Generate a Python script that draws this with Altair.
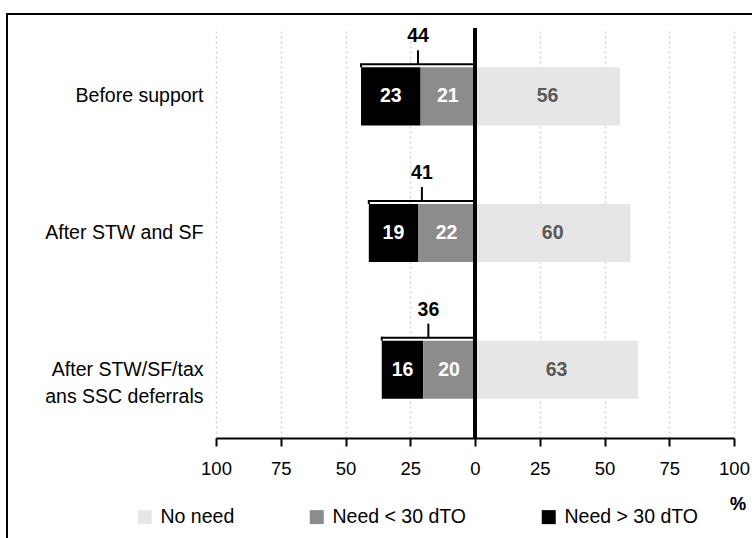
import altair as alt
import pandas as pd

# Share of firms by liquidity need, before and after support measures (%)
categories = [
    "Before support",
    "After STW and SF",
    "After STW/SF/tax\nans SSC deferrals",
]
need_over_30 = [23, 19, 16]   # Need > 30 dTO
need_under_30 = [21, 22, 20]  # Need < 30 dTO
no_need = [56, 60, 63]        # No need
totals = [44, 41, 36]         # bracket totals (need > 30 + need < 30)

segment_names = ["No need", "Need < 30 dTO", "Need > 30 dTO"]
segment_colors = ["#e6e6e6", "#8c8c8c", "#000000"]

FONT = "Liberation Sans"

rows = []
for cat, hi, lo, nn in zip(categories, need_over_30, need_under_30, no_need):
    rows.append({"cat": cat, "segment": "Need > 30 dTO", "value": hi,
                 "start": -(hi + lo), "end": -lo})
    rows.append({"cat": cat, "segment": "Need < 30 dTO", "value": lo,
                 "start": -lo, "end": 0})
    rows.append({"cat": cat, "segment": "No need", "value": nn,
                 "start": 0, "end": nn})
bars_df = pd.DataFrame(rows)
bars_df["mid"] = (bars_df["start"] + bars_df["end"]) / 2

brackets_df = pd.DataFrame({"cat": categories, "total": totals})
brackets_df["left"] = -brackets_df["total"]
brackets_df["half"] = -brackets_df["total"] / 2
brackets_df["zero"] = 0

x_scale = alt.Scale(domain=[-100, 100], nice=False, zero=False)
y_scale = alt.Scale(domain=categories, paddingInner=0.575, paddingOuter=0.2875)

x_axis = alt.Axis(
    values=[-100, -75, -50, -25, 0, 25, 50, 75, 100],
    labelExpr="abs(datum.value)",
    labelFlush=False,
    title=None,
    grid=True,
    gridColor="#d2d2d2",
    gridDash=[2, 3],
    gridWidth=1.5,
    domainColor="black",
    domainWidth=2,
    tickColor="black",
    tickWidth=2,
    tickSize=8,
    labelFont=FONT,
    labelFontSize=18.5,
    labelColor="black",
    labelPadding=13,
)
y_axis = alt.Axis(
    title=None,
    domain=False,
    ticks=False,
    grid=False,
    labelExpr="split(datum.label, '\\n')",
    labelFont=FONT,
    labelFontSize=19.5,
    labelColor="black",
    labelLineHeight=27,
    labelPadding=13,
)

bars = alt.Chart(bars_df).mark_bar().encode(
    x=alt.X("start:Q", scale=x_scale, axis=x_axis),
    x2="end:Q",
    y=alt.Y("cat:N", scale=y_scale, axis=y_axis, sort=categories),
    color=alt.Color(
        "segment:N",
        scale=alt.Scale(domain=segment_names, range=segment_colors),
        legend=alt.Legend(
            orient="none",
            legendX=-81,
            legendY=479,
            direction="horizontal",
            title=None,
            symbolType="square",
            symbolSize=196,
            symbolStrokeWidth=0,
            labelFont=FONT,
            labelFontSize=19.5,
            labelColor="black",
            labelOffset=6,
            columnPadding=72,
        ),
    ),
)

bar_labels = alt.Chart(bars_df).mark_text(
    font=FONT, fontSize=19.5, fontWeight="bold", baseline="middle"
).encode(
    x=alt.X("mid:Q", scale=x_scale),
    y=alt.Y("cat:N", scale=y_scale, sort=categories),
    text="value:Q",
    color=alt.condition(
        alt.datum.segment == "No need", alt.value("#595959"), alt.value("white")
    ),
)

zero_line = alt.Chart(brackets_df).mark_rule(color="black", strokeWidth=3.5).encode(
    x=alt.datum(0, scale=x_scale)
)

bracket_top = alt.Chart(brackets_df).mark_rule(
    color="black", strokeWidth=2, yOffset=-32
).encode(
    x=alt.X("left:Q", scale=x_scale),
    x2="zero:Q",
    y=alt.Y("cat:N", scale=y_scale, sort=categories),
)

bracket_end = alt.Chart(brackets_df).mark_rule(
    color="black", strokeWidth=2, yOffset=-33, y2Offset=-29
).encode(
    x=alt.X("left:Q", scale=x_scale),
    y=alt.Y("cat:N", scale=y_scale, sort=categories),
    y2="cat:N",
)

bracket_mid = alt.Chart(brackets_df).mark_rule(
    color="black", strokeWidth=2, yOffset=-46, y2Offset=-32
).encode(
    x=alt.X("half:Q", scale=x_scale),
    y=alt.Y("cat:N", scale=y_scale, sort=categories),
    y2="cat:N",
)

bracket_label = alt.Chart(brackets_df).mark_text(
    font=FONT, fontSize=19.5, fontWeight="bold", color="black",
    baseline="middle", yOffset=-60
).encode(
    x=alt.X("half:Q", scale=x_scale),
    y=alt.Y("cat:N", scale=y_scale, sort=categories),
    text="total:Q",
)

percent_sign = alt.Chart(brackets_df).mark_text(
    font=FONT, fontSize=18, fontWeight="normal", color="black",
    baseline="middle", align="center"
).encode(
    x=alt.value(522), y=alt.value(477), text=alt.value("%")
)

frame = alt.Chart(brackets_df).mark_rect(
    fill=None, stroke="black", strokeWidth=2
).encode(
    x=alt.value(-209), y=alt.value(-14), x2=alt.value(600), y2=alt.value(600)
)

chart = alt.layer(
    frame, bars, zero_line, bar_labels, bracket_top, bracket_end,
    bracket_mid, bracket_label, percent_sign,
).properties(
    width=518,
    height=410,
    autosize=alt.AutoSizeParams(type="none"),
    padding={"left": 216, "top": 28, "right": 18, "bottom": 100},
    background="white",
).configure_view(stroke=None)

chart.save("out.html", embed_options={"renderer": "svg", "actions": False})
